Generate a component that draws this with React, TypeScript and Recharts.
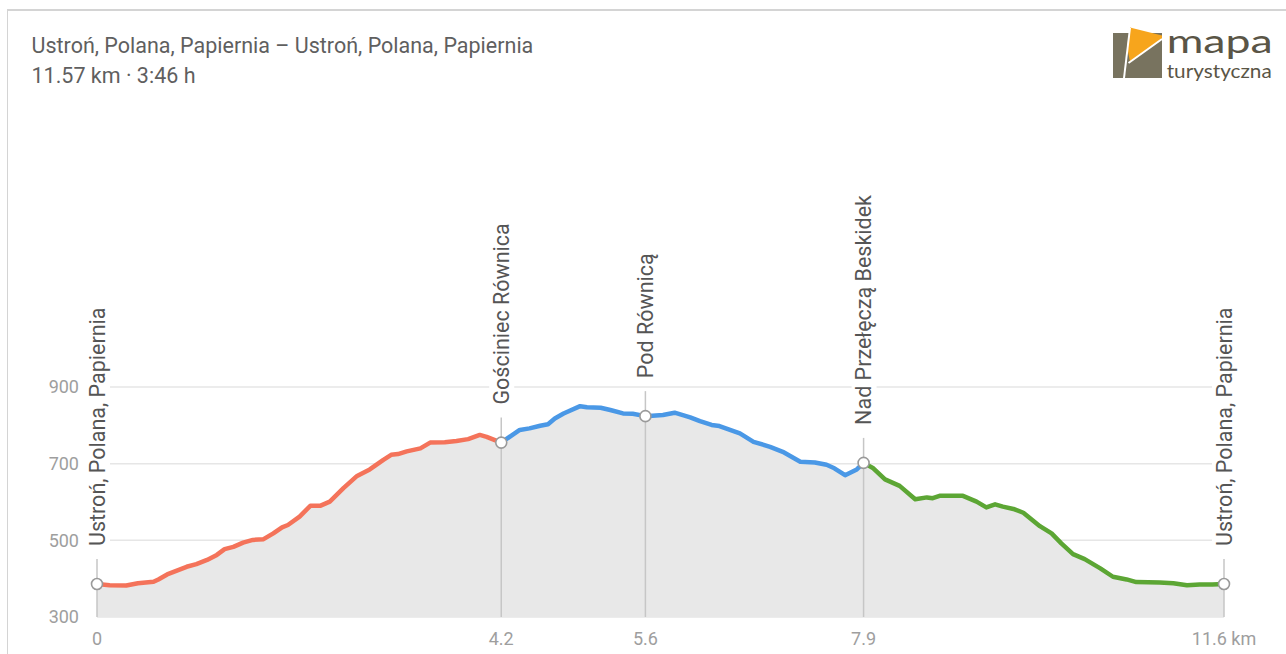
import React from "react";
import {
  ComposedChart,
  Area,
  Line,
  XAxis,
  YAxis,
  CartesianGrid,
  ReferenceDot,
} from "recharts";

// ---- data ----
const distanceKm = [
  0.0, 0.13, 0.3, 0.42, 0.58, 0.63, 0.72, 0.92, 1.02, 1.13, 1.23, 1.31, 1.4, 1.5, 1.6, 1.71, 1.81, 1.9, 1.96,
  2.08, 2.19, 2.29, 2.39, 2.53, 2.67, 2.8, 2.94, 3.02, 3.09, 3.18, 3.32, 3.42, 3.57, 3.69, 3.81, 3.93, 4.0, 4.15,
  4.34, 4.44, 4.55, 4.63, 4.7, 4.79, 4.96, 5.03, 5.17, 5.27, 5.4, 5.5, 5.63, 5.81, 5.93, 6.09, 6.19, 6.31, 6.39,
  6.6, 6.74, 6.91, 7.04, 7.22, 7.37, 7.49, 7.57, 7.68, 7.8, 7.87,
  7.97, 8.09, 8.24, 8.4, 8.52, 8.58, 8.65, 8.89, 9.03, 9.13, 9.22, 9.3, 9.42, 9.51, 9.68, 9.8, 9.9, 10.02,
  10.14, 10.3, 10.43, 10.57, 10.67, 10.91, 11.05, 11.19, 11.32, 11.45, 11.57,
];
const elevationM = [
  386, 383, 382, 388, 392, 398, 411, 431, 438, 449, 462, 477, 483, 494, 501, 503, 518, 534, 540,
  562, 590, 590, 601, 636, 668, 685, 710, 723, 725, 732, 740, 755, 756, 759, 764, 775, 770, 755,
  788, 792, 799, 803, 818, 831, 850, 847, 846, 840, 831, 830, 824, 827, 833, 821, 811, 801, 798,
  779, 757, 744, 731, 705, 703, 697, 688, 670, 685, 702,
  688, 659, 642, 607, 612, 610, 616, 616, 601, 586, 594, 588, 581, 572, 537, 518, 492, 464,
  451, 427, 405, 398, 391, 390, 388, 383, 385, 385, 386,
];
const sectionBoundsKm = [0, 4.15, 7.87, 11.57];
const sectionKeys = ["red", "blue", "green"];
const sectionColors = ["#f4735a", "#4a98e6", "#5ca634"];

const waypointKm = [0, 4.15, 5.63, 7.87, 11.57];
const waypointElev = [386, 755, 824, 702, 386];
const waypointNames = [
  "Ustroń, Polana, Papiernia",
  "Gościniec Równica",
  "Pod Równicą",
  "Nad Przełęczą Beskidek",
  "Ustroń, Polana, Papiernia",
];
const xTickLabels = ["0", "4.2", "5.6", "7.9", "11.6 km"];
const yTicks = [300, 500, 700, 900];

const title = "Ustroń, Polana, Papiernia – Ustroń, Polana, Papiernia";
const subtitle = "11.57 km · 3:46 h";

// ---- table ----
const rows = distanceKm.map((km, i) => {
  const row: any = { km, elev: elevationM[i] };
  sectionKeys.forEach((k, s) => {
    row[k] = km >= sectionBoundsKm[s] && km <= sectionBoundsKm[s + 1] ? elevationM[i] : null;
  });
  return row;
});

// ---- layout ----
const CHART_W = 1286;
const CHART_H = 554;
const MARGIN = { top: 287, right: 62, bottom: 7, left: 37 };
const XAXIS_H = 30;
const PLOT_BOTTOM = CHART_H - MARGIN.bottom - XAXIS_H;
const FONT = "Roboto, 'Noto Sans', sans-serif";

const makeWaypointShape = (name: string) => (props: any) => {
  const { cx, cy } = props;
  if (cx == null || cy == null) return <g />;
  const ty = cy - 38;
  const len = name.length * 10.5 + 8;
  return (
    <g>
      <line x1={cx} y1={cy - 25} x2={cx} y2={PLOT_BOTTOM} stroke="#c6c6c6" strokeWidth={1.5} />
      <rect x={cx - 12} y={ty - len} width={25} height={len + 3} fill="#ffffff" />
      <text
        x={cx}
        y={ty}
        dy="0.35em"
        transform={`rotate(-90 ${cx} ${ty})`}
        textAnchor="start"
        fontSize={21.5}
        fontFamily={FONT}
        fill="#555555"
      >
        {name}
      </text>
      <circle cx={cx} cy={cy} r={5.5} fill="#ffffff" stroke="#9a9a9a" strokeWidth={1.6} />
    </g>
  );
};

const Logo = () => (
  <svg width={186} height={70} style={{ position: "absolute", left: 1100, top: 20 }}>
    <rect x={13} y={13} width={49} height={45} fill="#78735f" />
    <polygon points="30,7.5 62,15.5 62,19 30,42 27,26" fill="#f7a51c" />
    <line x1={24} y1={58} x2={30} y2={8} stroke="#ffffff" strokeWidth={2} />
    <line x1={28.5} y1={43} x2={62} y2={19} stroke="#ffffff" strokeWidth={2} />
    <text x={66.7} y={33.3} fontSize={32} fontFamily="Lato, 'Open Sans', sans-serif" fontWeight={400}
      fill="#5a5546" textLength={106} lengthAdjust="spacingAndGlyphs">mapa</text>
    <text x={66.7} y={58.3} fontSize={19} fontFamily="Lato, 'Open Sans', sans-serif" fontWeight={400}
      fill="#5a5546" textLength={105} lengthAdjust="spacingAndGlyphs">turystyczna</text>
  </svg>
);

export default function App() {
  return (
    <div
      style={{
        position: "fixed",
        left: 0,
        top: 0,
        width: 1286,
        height: 654,
        overflow: "hidden",
        background: "#ffffff",
        fontFamily: FONT,
      }}
    >
      <div
        style={{
          position: "absolute",
          left: 7,
          top: 9,
          width: 1300,
          height: 700,
          borderTop: "2px solid #d4d4d4",
          borderLeft: "1px solid #d4d4d4",
        }}
      />
      <div
        style={{
          position: "absolute",
          left: 31.5,
          top: 31,
          fontSize: 21.5,
          lineHeight: "30px",
          color: "#5f5f5f",
          whiteSpace: "nowrap",
        }}
      >
        <div>{title}</div>
        <div>{subtitle}</div>
      </div>
      <Logo />
      <div style={{ position: "absolute", left: 0, top: 100 }}>
        <ComposedChart width={CHART_W} height={CHART_H} data={rows} margin={MARGIN}>
          <CartesianGrid vertical={false} stroke="#e6e6e6" strokeWidth={1.5} />
          <XAxis
            dataKey="km"
            type="number"
            domain={[0, 11.57]}
            ticks={waypointKm}
            interval={0}
            tickFormatter={(v: number) => xTickLabels[waypointKm.indexOf(v)] ?? ""}
            tickLine={false}
            axisLine={false}
            tickSize={0}
            tickMargin={15}
            height={XAXIS_H}
            tick={{ fill: "#9e9e9e", fontSize: 18, fontFamily: FONT }}
          />
          <YAxis
            type="number"
            domain={[300, 900]}
            ticks={yTicks}
            interval={0}
            tickLine={false}
            axisLine={false}
            tickSize={0}
            tickMargin={18}
            width={60}
            tick={{ fill: "#9e9e9e", fontSize: 18, fontFamily: FONT }}
          />
          <Area
            dataKey="elev"
            type="linear"
            stroke="none"
            fill="#e8e8e8"
            fillOpacity={1}
            isAnimationActive={false}
            dot={false}
            activeDot={false}
          />
          {sectionKeys.map((k, s) => (
            <Line
              key={k}
              dataKey={k}
              type="linear"
              stroke={sectionColors[s]}
              strokeWidth={4.5}
              strokeLinejoin="round"
              strokeLinecap="round"
              dot={false}
              activeDot={false}
              connectNulls={false}
              isAnimationActive={false}
            />
          ))}
          {waypointKm.map((km, i) => (
            <ReferenceDot
              key={i}
              x={km}
              y={waypointElev[i]}
              ifOverflow="visible"
              shape={makeWaypointShape(waypointNames[i])}
            />
          ))}
        </ComposedChart>
      </div>
    </div>
  );
}
